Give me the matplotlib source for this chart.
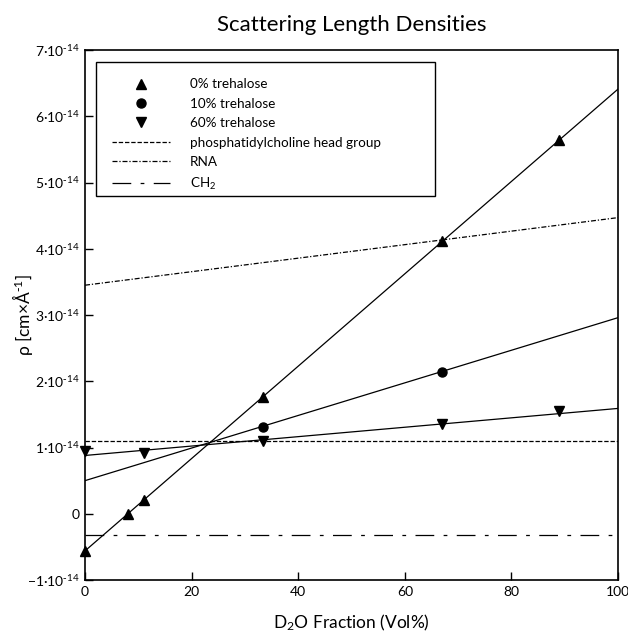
import matplotlib
matplotlib.use('Agg')
import matplotlib.pyplot as plt
from matplotlib.patches import Rectangle
from matplotlib.ticker import FuncFormatter

plt.rcParams['font.family'] = ['Lato', 'DejaVu Sans']
plt.rcParams['mathtext.default'] = 'regular'

# all densities below in units of 1e-14 cm x A^-1
# measured points, D2O fraction (vol%)
x_0 = [0, 8, 11, 33.3, 67, 89]
rho_0 = [-0.56, 0.0, 0.21, 1.76, 4.11, 5.64]

x_10 = [33.3, 67]
rho_10 = [1.31, 2.14]

x_60 = [0, 11, 33.3, 67, 89]
rho_60 = [0.95, 0.92, 1.10, 1.36, 1.55]

# linear fits, evaluated at the ends of the D2O range
fit_x = [0, 100]
fit_0 = [-0.56, 6.41]
fit_10 = [0.50, 2.96]
fit_60 = [0.88, 1.59]

# reference densities
pc_head = [1.10, 1.10]
rna = [3.45, 4.47]
ch2 = [-0.32, -0.32]

fig = plt.figure(figsize=(6.28, 6.33), dpi=100)
ax = fig.add_axes([0.1354, 0.0837, 0.8487, 0.8373])

lw = 0.9
ax.plot(fit_x, fit_0, color='k', lw=lw)
ax.plot(fit_x, fit_10, color='k', lw=lw)
ax.plot(fit_x, fit_60, color='k', lw=lw)

ax.plot(x_0, rho_0, '^', color='k', ms=6.5, clip_on=False, label='0% trehalose')
ax.plot(x_10, rho_10, 'o', color='k', ms=6.5, label='10% trehalose')
ax.plot(x_60, rho_60, 'v', color='k', ms=6.5, clip_on=False, label='60% trehalose')

ax.plot(fit_x, pc_head, color='k', lw=lw, linestyle=(0, (3.5, 1.5)),
        label='phosphatidylcholine head group')
ax.plot(fit_x, rna, color='k', lw=lw, linestyle=(0, (4, 1.5, 1, 1.5)),
        label='RNA')
ax.plot(fit_x, ch2, color='k', lw=lw, linestyle=(0, (15, 7.5, 3, 7.5)),
        label='CH$_2$')

ax.set_xlim(0, 100)
ax.set_ylim(-1, 7)
ax.set_xticks([0, 20, 40, 60, 80, 100])
ax.set_yticks(range(-1, 8))


def sci_label(v, pos):
    if v == 0:
        return '0'
    return '{}\u00b710$^{{\\text{{-}}14}}$'.format(int(v)).replace('-1\u00b7', '\u22121\u00b7')


ax.yaxis.set_major_formatter(FuncFormatter(sci_label))
ax.tick_params(direction='in', length=6, width=1, labelsize=10, pad=4,
               top=False, right=False)
for s in ax.spines.values():
    s.set_linewidth(1.2)

ax.set_title('Scattering Length Densities', fontsize=16, pad=14)
ax.set_xlabel('D$_2$O Fraction (Vol%)', fontsize=12.5, va='center')
ax.xaxis.set_label_coords(0.5, -0.081)
ax.set_ylabel('\u03c1 [cm\u00d7\u00c5$^{\\text{-}1}$]', fontsize=12.5, va='center')
ax.yaxis.set_label_coords(-0.118, 0.5)

# legend entries without their own frame, boxed by a plain rectangle
leg = ax.legend(loc='upper left', bbox_to_anchor=(0.0206, 0.977), fontsize=9.7,
                frameon=False, borderaxespad=0,
                handlelength=4.3, handletextpad=1.45, borderpad=1.2,
                labelspacing=0.55)
ax.add_patch(Rectangle((0.0206, 0.7245), 0.6361, 0.2525, transform=ax.transAxes,
                       facecolor='none', edgecolor='k', lw=1.0, zorder=5))

fig.savefig('out.png', dpi=100)
